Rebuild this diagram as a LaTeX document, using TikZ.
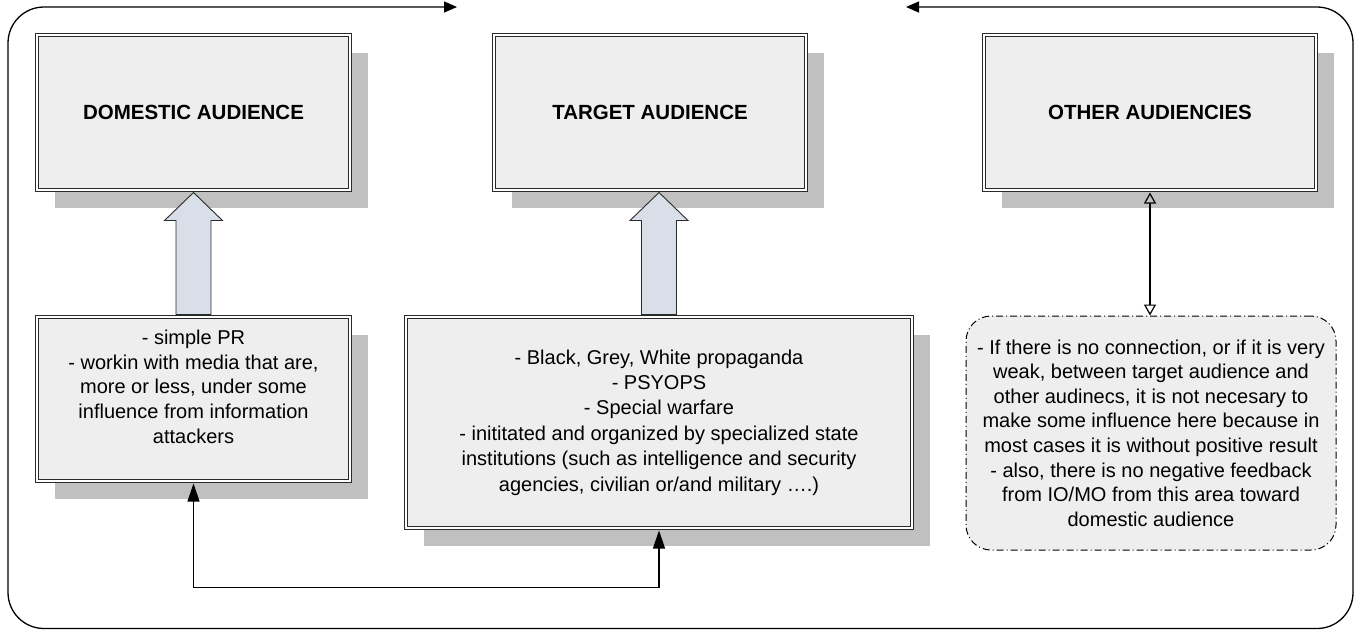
\documentclass[tikz,border=0pt]{standalone}
\usepackage{fontspec}
\setmainfont{Liberation Sans}
\usetikzlibrary{arrows.meta,shadows,calc}
\definecolor{boxfill}{HTML}{EEEEEE}
\definecolor{shadowc}{HTML}{C0C0C0}
\definecolor{arrowfill}{HTML}{D9DFE8}
\definecolor{edgec}{HTML}{2A2A2A}
\begin{document}
\begin{tikzpicture}[x=1pt,y=-1pt,
  dbox/.style={rectangle, draw=edgec, line width=1pt, double=white, double distance=1.8pt,
    fill=boxfill, general shadow={shadow xshift=17.5pt, shadow yshift=-17.5pt, fill=shadowc},
    inner sep=0pt, align=center},
  titletext/.style={font=\fontsize{20.5}{24}\selectfont\bfseries},
  bodytext/.style={font=\fontsize{20}{24.6}\selectfont},
  dashbox/.style={rectangle, rounded corners=25pt, draw=black, line width=1pt,
    dash pattern=on 7pt off 3pt on 1pt off 3pt, fill=boxfill, inner sep=0pt, align=center},
  barrow/.style={draw=edgec, line width=0.9pt, fill=arrowfill, line join=miter},
  conn/.style={draw=black, line width=1.2pt, {Triangle[width=12pt,length=18pt]}-{Triangle[width=12pt,length=18pt]}},
  oconn/.style={draw=black, line width=1.2pt, {Triangle[open,width=12pt,length=11pt]}-{Triangle[open,width=12pt,length=11pt]}},
  frame/.style={draw=black, line width=1.3pt, rounded corners=36pt, {Triangle[width=11pt,length=13pt]}-{Triangle[width=11pt,length=13pt]}}
]
\useasboundingbox (0,0) rectangle (1355,630);

% outer feedback frame
\coordinate (frA) at (906,7);
\coordinate (frB) at (457,7);
\draw[frame] (frA) -- (1353,7) -- (1353,628.5) -- (8,628.5) -- (8,7) -- (frB);

% top boxes
\node[dbox, titletext, minimum width=313pt, minimum height=155pt] (dat) at (193.5,112.5) {DOMESTIC AUDIENCE};
\node[dbox, titletext, minimum width=312pt, minimum height=155pt] (tat) at (650,112.5) {TARGET AUDIENCE};
\node[dbox, titletext, minimum width=332pt, minimum height=155pt] (oat) at (1150,112.5) {OTHER AUDIENCIES};

% bottom boxes
\node[dbox, bodytext, minimum width=313pt, minimum height=164pt] (dab) at (193.5,399)
  {- simple PR\\- workin with media that are,\\more or less, under some\\influence from information\\attackers\\~};
\node[dbox, bodytext, minimum width=506pt, minimum height=211pt, font=\fontsize{20}{25.4}\selectfont] (tab) at (659,422.5)
  {- Black, Grey, White propaganda\\- PSYOPS\\- Special warfare\\- inititated and organized by specialized state\\institutions (such as intelligence and security\\agencies, civilian or/and military \dots.)};
\node[dashbox, bodytext, minimum width=370pt, minimum height=234pt] (oab) at (1151,433)
  {- If there is no connection, or if it is very\\weak, between target audience and\\other audinecs, it is not necesary to\\make some influence here because in\\most cases it is without positive result\\- also, there is no negative feedback\\from IO/MO from this area toward\\domestic audience};

% block arrows
\draw[barrow] ($(dat.south)+(0,2)$) -- ++(29,28) -- ++(-11.5,0) -- ($(dab.north)+(17.5,-2)$)
  -- ($(dab.north)+(-17.5,-2)$) -- ($(dat.south)+(-17.5,30)$) -- ++(-11.5,0) -- cycle;
\coordinate (ttip) at ($(tab.north |- tat.south)+(0,2)$);
\draw[barrow] (ttip) -- ++(29,28) -- ++(-11.5,0) -- ($(tab.north)+(17.5,-2)$)
  -- ($(tab.north)+(-17.5,-2)$) -- ($(ttip)+(-17.5,28)$) -- ++(-11.5,0) -- cycle;

% connectors
\draw[oconn] ($(oat.south)+(0,2)$) -- ($(oat.south |- oab.north)$);
\draw[conn] ($(dab.south)+(0,2)$) -- ++(0,104) -| ($(tab.south)+(0,2)$);
\end{tikzpicture}
\end{document}
